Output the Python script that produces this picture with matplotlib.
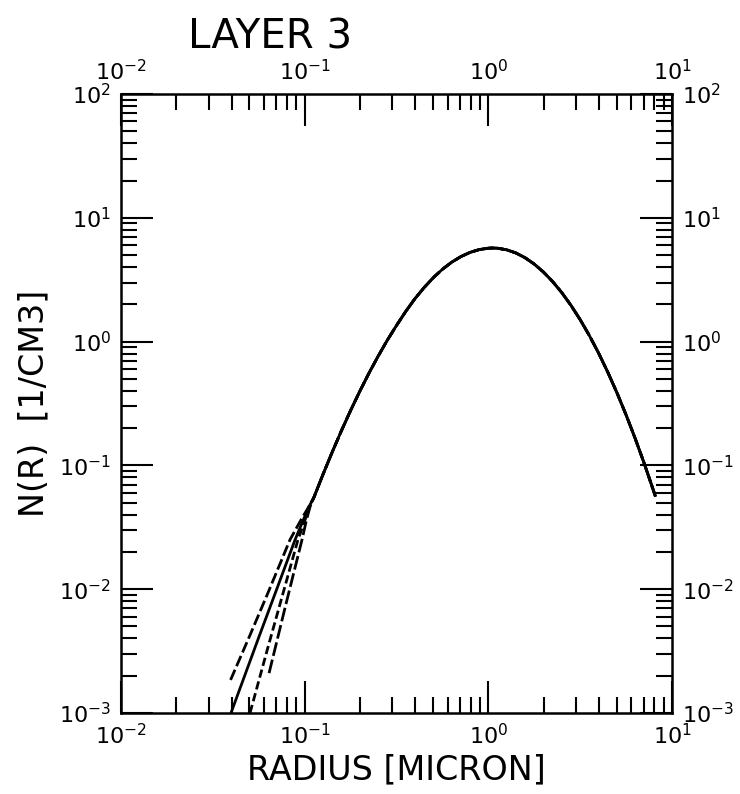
import matplotlib
matplotlib.use("Agg")
import matplotlib.pyplot as plt
from matplotlib.ticker import LogLocator, NullFormatter, LogFormatterSciNotation

# Shared part of the size distribution (all four curves coincide here)
main_radius = [0.1122, 0.1259, 0.1413, 0.1585, 0.1778, 0.1995, 0.2239, 0.2512,
               0.2818, 0.3162, 0.3548, 0.3981, 0.4467, 0.5012, 0.5623, 0.6310,
               0.7079, 0.7943, 0.8913, 1.0, 1.059, 1.122, 1.259, 1.413, 1.585,
               1.778, 1.995, 2.239, 2.512, 2.818, 3.162, 3.548, 3.981, 4.467,
               5.012, 5.623, 6.310, 7.079, 7.943, 8.128]
main_n = [0.0550, 0.0847, 0.1282, 0.1905, 0.2773, 0.3963, 0.5559, 0.7621,
          1.026, 1.349, 1.750, 2.218, 2.729, 3.281, 3.837, 4.375,
          4.855, 5.254, 5.534, 5.684, 5.70, 5.681, 5.516, 5.199, 4.759,
          4.229, 3.649, 3.056, 2.486, 1.963, 1.505, 1.120, 0.810, 0.568,
          0.387, 0.256, 0.1644, 0.1026, 0.0621, 0.056]

# Small-radius tails, where the four curves separate
tail_a_radius = [0.0395, 0.0501, 0.0631, 0.0832, 0.0955, 0.1047]
tail_a_n = [0.00185, 0.00417, 0.00933, 0.0251, 0.0363, 0.0457]
tail_b_radius = [0.0397, 0.0562, 0.0708, 0.0885, 0.0977, 0.1059]
tail_b_n = [0.0010, 0.00407, 0.0102, 0.0249, 0.0355, 0.0468]
tail_c_radius = [0.0504, 0.0631, 0.0794, 0.0918, 0.100, 0.1067]
tail_c_n = [0.0010, 0.00339, 0.0115, 0.0249, 0.0355, 0.0468]
tail_d_radius = [0.0640, 0.0794, 0.0966, 0.1023, 0.1072]
tail_d_n = [0.0021, 0.00776, 0.0249, 0.0363, 0.0468]

title = "LAYER 3"
xlabel = "RADIUS [MICRON]"
ylabel = "N(R)  [1/CM3]"

plt.rcParams['font.family'] = ['DejaVu Sans']

fig = plt.figure(figsize=(7.4, 7.94), dpi=100)
ax = fig.add_axes([0.1635, 0.102, 0.7446, 0.7796])

styles = [
    (tail_a_radius, tail_a_n, (0, (4, 1.4))),
    (tail_b_radius, tail_b_n, '-'),
    (tail_c_radius, tail_c_n, (0, (3, 1.4))),
    (tail_d_radius, tail_d_n, (0, (5, 1.4))),
]
for tr, tn, ls in styles:
    ax.plot(tr + main_radius, tn + main_n, color='black', lw=2.0,
            linestyle=ls, solid_capstyle='butt', dash_capstyle='butt')

ax.set_xscale('log')
ax.set_yscale('log')
ax.set_xlim(1e-2, 1e1)
ax.set_ylim(1e-3, 1e2)

for axis in (ax.xaxis, ax.yaxis):
    axis.set_major_locator(LogLocator(base=10, numticks=20))
    axis.set_minor_locator(LogLocator(base=10, subs=range(2, 10), numticks=20))
    axis.set_minor_formatter(NullFormatter())
    axis.set_major_formatter(LogFormatterSciNotation())

ax.tick_params(which='both', direction='in', top=True, right=True,
               labeltop=True, labelright=True, width=1.5, color='black')
ax.tick_params(which='major', length=23, labelsize=16, pad=7)
ax.tick_params(which='minor', length=11.5)

for s in ax.spines.values():
    s.set_linewidth(1.8)

ax.set_xlabel(xlabel, fontsize=24, labelpad=4)
ax.set_ylabel(ylabel, fontsize=24, labelpad=6)
fig.text(0.365, 0.953, title, fontsize=29, ha='center', va='center')

fig.savefig("out.png", dpi=100)
